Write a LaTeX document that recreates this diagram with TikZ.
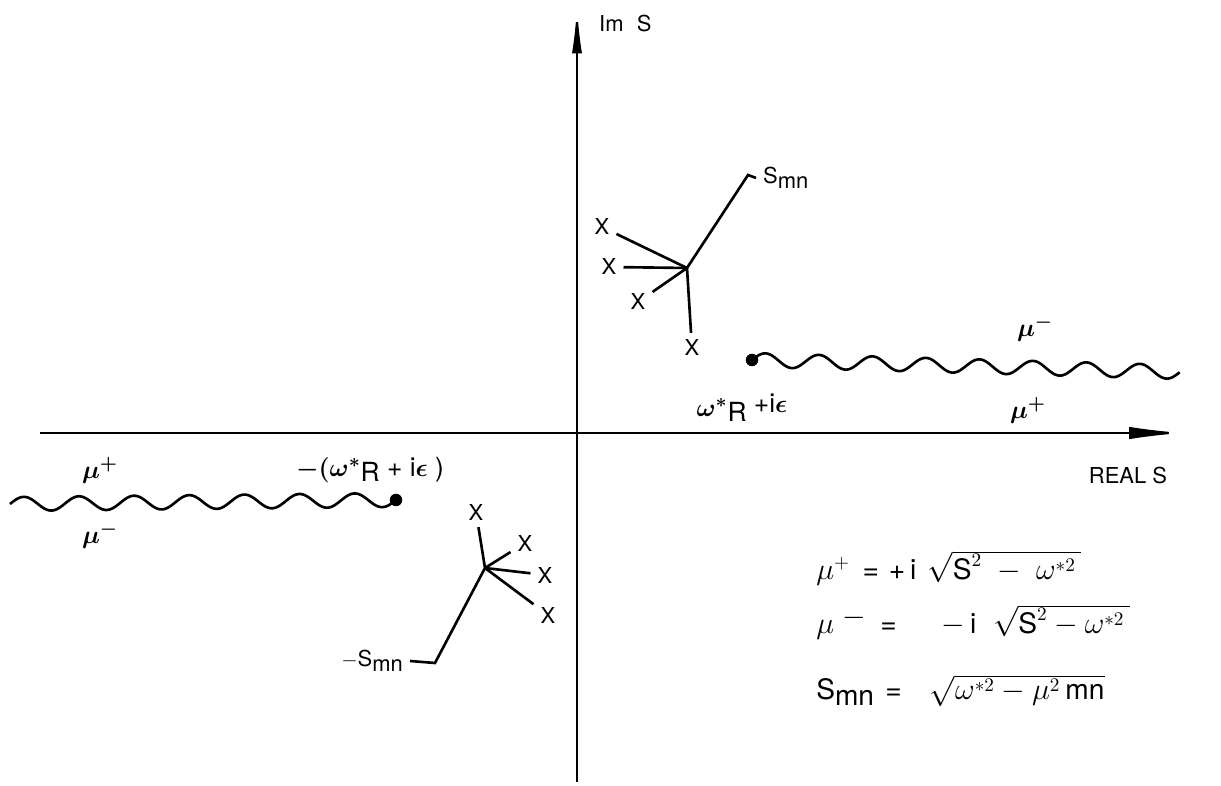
\documentclass[tikz,border=0pt]{standalone}
\usepackage{fontspec}
\setmainfont{TeX Gyre Heros}
\usetikzlibrary{arrows.meta}
\begin{document}
\begin{tikzpicture}[x=0.02cm,y=-0.02cm,line width=1.5pt,font=\fontsize{12.5}{15}\selectfont,
  pole/.style={circle,fill,inner sep=0pt,minimum size=0.25cm},
  greek/.style={font=\fontsize{15}{18}\selectfont\boldmath},
  eqn/.style={anchor=base west,inner sep=0pt,font=\fontsize{16}{19}\selectfont}]
 \useasboundingbox (0,0) rectangle (1221,786);
 % axes
 \draw[line width=1.3pt,-{Latex[length=0.95cm,width=0.2cm]}] (577,782)--(577,6);
 \draw[line width=1.3pt,-{Latex[length=1.1cm,width=0.25cm]}] (40,433)--(1184,433);
 \node (imS) [anchor=west] at (592,24) {Im\hspace{0.6em}S};
 \node (realS) at (1128,475) {REAL S};
 % upper cluster
 \coordinate (cU) at (687,268);
 \node (xU1) at (602,227) {X}; \node (xU2) at (609,267) {X};
 \node (xU3) at (638,302) {X}; \node (xU4) at (692,348) {X};
 \draw (xU1)--(cU); \draw (xU2)--(cU); \draw (xU3)--(cU); \draw (xU4)--(cU);
 \node (sU) [anchor=west] at (756,178) {S\raisebox{-3pt}{mn}};
 \draw (cU)--(748,175)--(sU.west);
 % lower cluster
 \coordinate (cL) at (485,568);
 \node (xL1) at (476,512) {X}; \node (xL2) at (525,543) {X};
 \node (xL3) at (545,575) {X}; \node (xL4) at (548,615) {X};
 \draw (xL1)--(cL); \draw (xL2)--(cL); \draw (xL3)--(cL); \draw (xL4)--(cL);
 \node (sL) [anchor=east] at (410,661) {$-$S\raisebox{-3pt}{mn}};
 \draw (cL)--(435,663)--(sL.east);
 % cuts
 \node (pU) [pole] at (752,360) {};
 \draw plot[domain=0:1,samples=240,smooth] ({752+428*\x},{360+12*\x-7*sin(8*360*\x)});
 \node (pL) [pole] at (396,500) {};
 \draw plot[domain=0:1,samples=240,smooth] ({10+386*\x},{504-4*\x-7*sin(7*360*\x)});
 \node (muU1) [greek] at (1035,328) {$\mu^-$}; \node (muU2) [greek] at (1028,410) {$\mu^+$};
 \node (brU) [greek] at (742,408) {$\omega^*$\raisebox{-3pt}{R} \raisebox{2pt}{+i$\epsilon$}};
 \node (muL1) [greek] at (100,470) {$\mu^+$}; \node (muL2) [greek] at (100,535) {$\mu^-$};
 \node (brL) [greek] at (370,470) {$-(\omega^*$\raisebox{-3pt}{R} + i$\epsilon$ )};
 % formulas
 \node (eqA) [eqn] at (815,580) {$\mu^+$\hspace{0.45em}=\hspace{0.35em}+\,i\hspace{0.4em}$\sqrt{\mbox{S}^2\;-\;\omega^{*2}\,}$};
 \node (eqB) [eqn] at (815,634) {$\mu$\hspace{0.3em}\raisebox{5pt}{$-$}\hspace{0.5em}=\hspace{1.6em}$-$\,i\hspace{0.6em}$\sqrt{\mbox{S}^2 - \omega^{*2}\,}$};
 \node (eqC) [eqn] at (815,700) {S\raisebox{-3pt}{mn}\hspace{0.4em}=\hspace{1em}$\sqrt{\omega^{*2} - \mu^2\,\mbox{mn}}$};
\end{tikzpicture}
\end{document}
